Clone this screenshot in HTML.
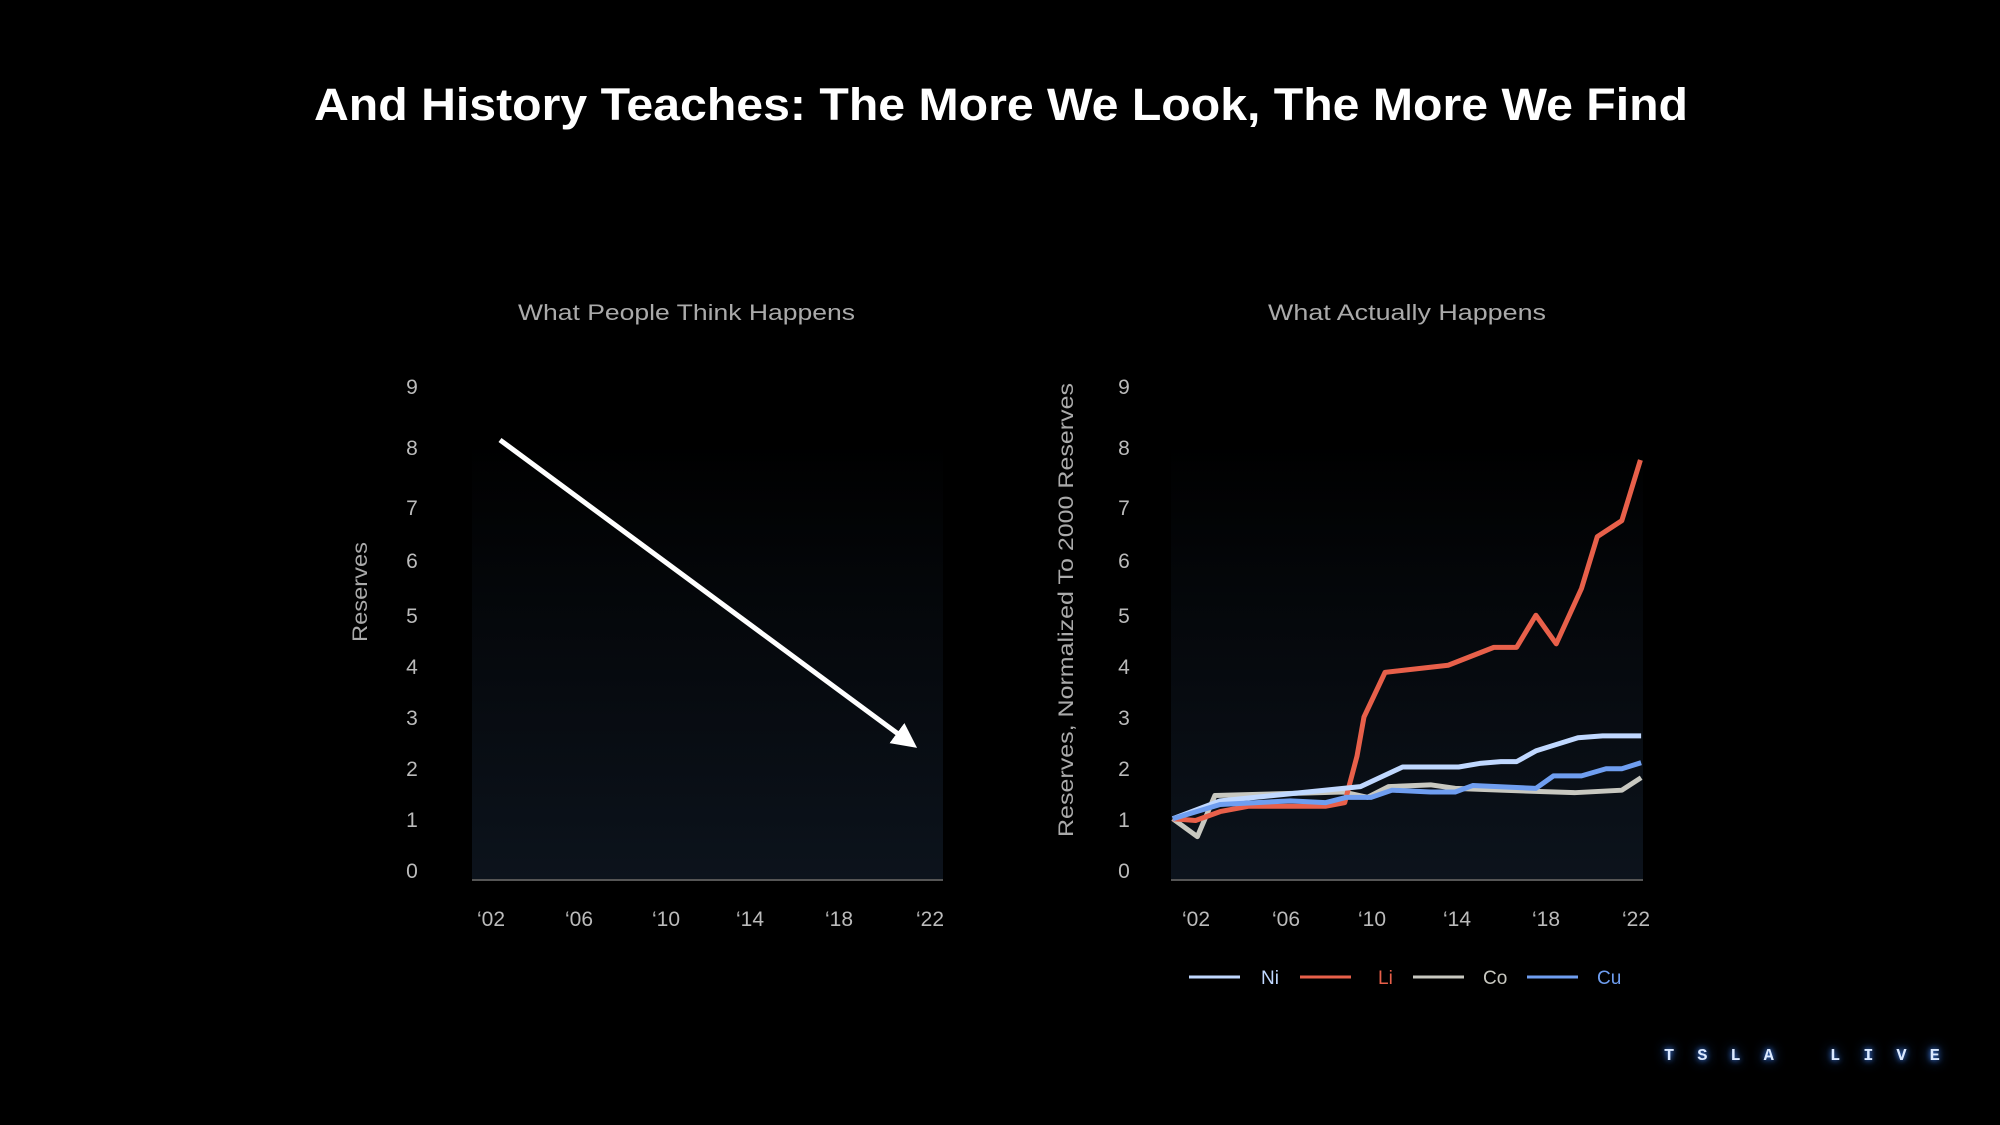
<!DOCTYPE html>
<html><head><meta charset="utf-8"><style>
html,body{margin:0;padding:0;background:#000;}
body{width:2000px;height:1125px;overflow:hidden;position:relative;font-family:"Liberation Sans",sans-serif;}
</style></head><body>
<svg width="2000" height="1125" xmlns="http://www.w3.org/2000/svg" style="position:absolute;left:0;top:0">
<defs>
<linearGradient id="bg" x1="0" y1="0" x2="0" y2="1">
<stop offset="0" stop-color="#000"/><stop offset="1" stop-color="#0c131c"/>
</linearGradient>
<marker id="ah" markerWidth="5" markerHeight="5" refX="2" refY="2.5" orient="auto" markerUnits="strokeWidth">
<path d="M0,0 L5,2.5 L0,5 z" fill="#fff"/></marker>
</defs>
<text x="314" y="120" textLength="1374" lengthAdjust="spacingAndGlyphs" fill="#fff" font-size="45" font-weight="bold" font-family="Liberation Sans, sans-serif">And History Teaches: The More We Look, The More We Find</text>

<!-- left -->
<text x="518" y="320" textLength="337" lengthAdjust="spacingAndGlyphs" fill="#aaa" font-size="22">What People Think Happens</text>
<rect x="472" y="440" width="471" height="440" fill="url(#bg)"/>
<line x1="472" y1="880" x2="943" y2="880" stroke="#555" stroke-width="2"/>
<g fill="#bbb" font-size="21" text-anchor="middle">
<text x="412" y="878">0</text><text x="412" y="827">1</text><text x="412" y="776">2</text><text x="412" y="725">3</text><text x="412" y="674">4</text><text x="412" y="623">5</text><text x="412" y="568">6</text><text x="412" y="515">7</text><text x="412" y="455">8</text><text x="412" y="394">9</text>
<text x="491" y="926">‘02</text><text x="579" y="926">‘06</text><text x="666" y="926">‘10</text><text x="750" y="926">‘14</text><text x="839" y="926">‘18</text><text x="930" y="926">‘22</text>
</g>
<text transform="translate(367,642) rotate(-90)" textLength="100" lengthAdjust="spacingAndGlyphs" fill="#aaa" font-size="21">Reserves</text>
<line x1="500" y1="440" x2="905" y2="739" stroke="#fff" stroke-width="5" marker-end="url(#ah)"/>

<!-- right -->
<text x="1268" y="320" textLength="278" lengthAdjust="spacingAndGlyphs" fill="#aaa" font-size="22">What Actually Happens</text>
<rect x="1171" y="440" width="472" height="440" fill="url(#bg)"/>
<line x1="1171" y1="880" x2="1643" y2="880" stroke="#555" stroke-width="2"/>
<g fill="#bbb" font-size="21" text-anchor="middle">
<text x="1124" y="878">0</text><text x="1124" y="827">1</text><text x="1124" y="776">2</text><text x="1124" y="725">3</text><text x="1124" y="674">4</text><text x="1124" y="623">5</text><text x="1124" y="568">6</text><text x="1124" y="515">7</text><text x="1124" y="455">8</text><text x="1124" y="394">9</text>
<text x="1196" y="926">‘02</text><text x="1286" y="926">‘06</text><text x="1372" y="926">‘10</text><text x="1457" y="926">‘14</text><text x="1546" y="926">‘18</text><text x="1636" y="926">‘22</text>
</g>
<text transform="translate(1073,837) rotate(-90)" textLength="454" lengthAdjust="spacingAndGlyphs" fill="#aaa" font-size="21">Reserves, Normalized To 2000 Reserves</text>

<g transform="translate(1150,360) scale(0.3508,0.357)" fill="none" stroke-linejoin="round">
<polyline vector-effect="non-scaling-stroke" stroke="#c8c8c0" stroke-width="5" points="65,1285 135,1335 185,1220 550,1210 620,1225 680,1195 800,1190 870,1200 1000,1205 1210,1212 1345,1205 1400,1170"/>
<polyline vector-effect="non-scaling-stroke" stroke="#e8604a" stroke-width="5" points="65,1285 130,1290 200,1265 280,1250 500,1250 555,1240 590,1110 610,1000 670,875 850,855 980,805 1045,805 1100,715 1158,795 1230,640 1275,495 1345,450 1398,280"/>
<polyline vector-effect="non-scaling-stroke" stroke="#c0d8ff" stroke-width="5" points="65,1285 200,1235 600,1195 720,1140 880,1140 940,1130 1000,1125 1045,1125 1100,1095 1220,1058 1290,1053 1400,1053"/>
<polyline vector-effect="non-scaling-stroke" stroke="#6f9ef0" stroke-width="5" points="65,1285 200,1245 400,1235 500,1240 560,1225 630,1225 690,1205 800,1210 870,1210 920,1192 1100,1200 1150,1165 1230,1165 1300,1145 1345,1145 1400,1128"/>
</g>

<!-- legend -->
<g stroke-width="3">
<line x1="1189" y1="977" x2="1240" y2="977" stroke="#c0d8ff"/>
<line x1="1300" y1="977" x2="1351" y2="977" stroke="#e8604a"/>
<line x1="1413" y1="977" x2="1464" y2="977" stroke="#c8c8c0"/>
<line x1="1527" y1="977" x2="1578" y2="977" stroke="#6f9ef0"/>
</g>
<g font-size="19">
<text x="1261" y="984" fill="#c0d8ff">Ni</text>
<text x="1378" y="984" fill="#e8604a">Li</text>
<text x="1483" y="984" fill="#c8c8c0">Co</text>
<text x="1597" y="984" fill="#6f9ef0">Cu</text>
</g>
</svg>
<div style="position:absolute;left:1664px;top:1047px;font-size:17px;font-weight:bold;color:#dbe9ff;letter-spacing:23px;text-shadow:0 0 6px #4a8dff,0 0 12px #2c6bdc;white-space:pre;font-family:'Liberation Mono',monospace">TSLA LIVE</div>
</body></html>
